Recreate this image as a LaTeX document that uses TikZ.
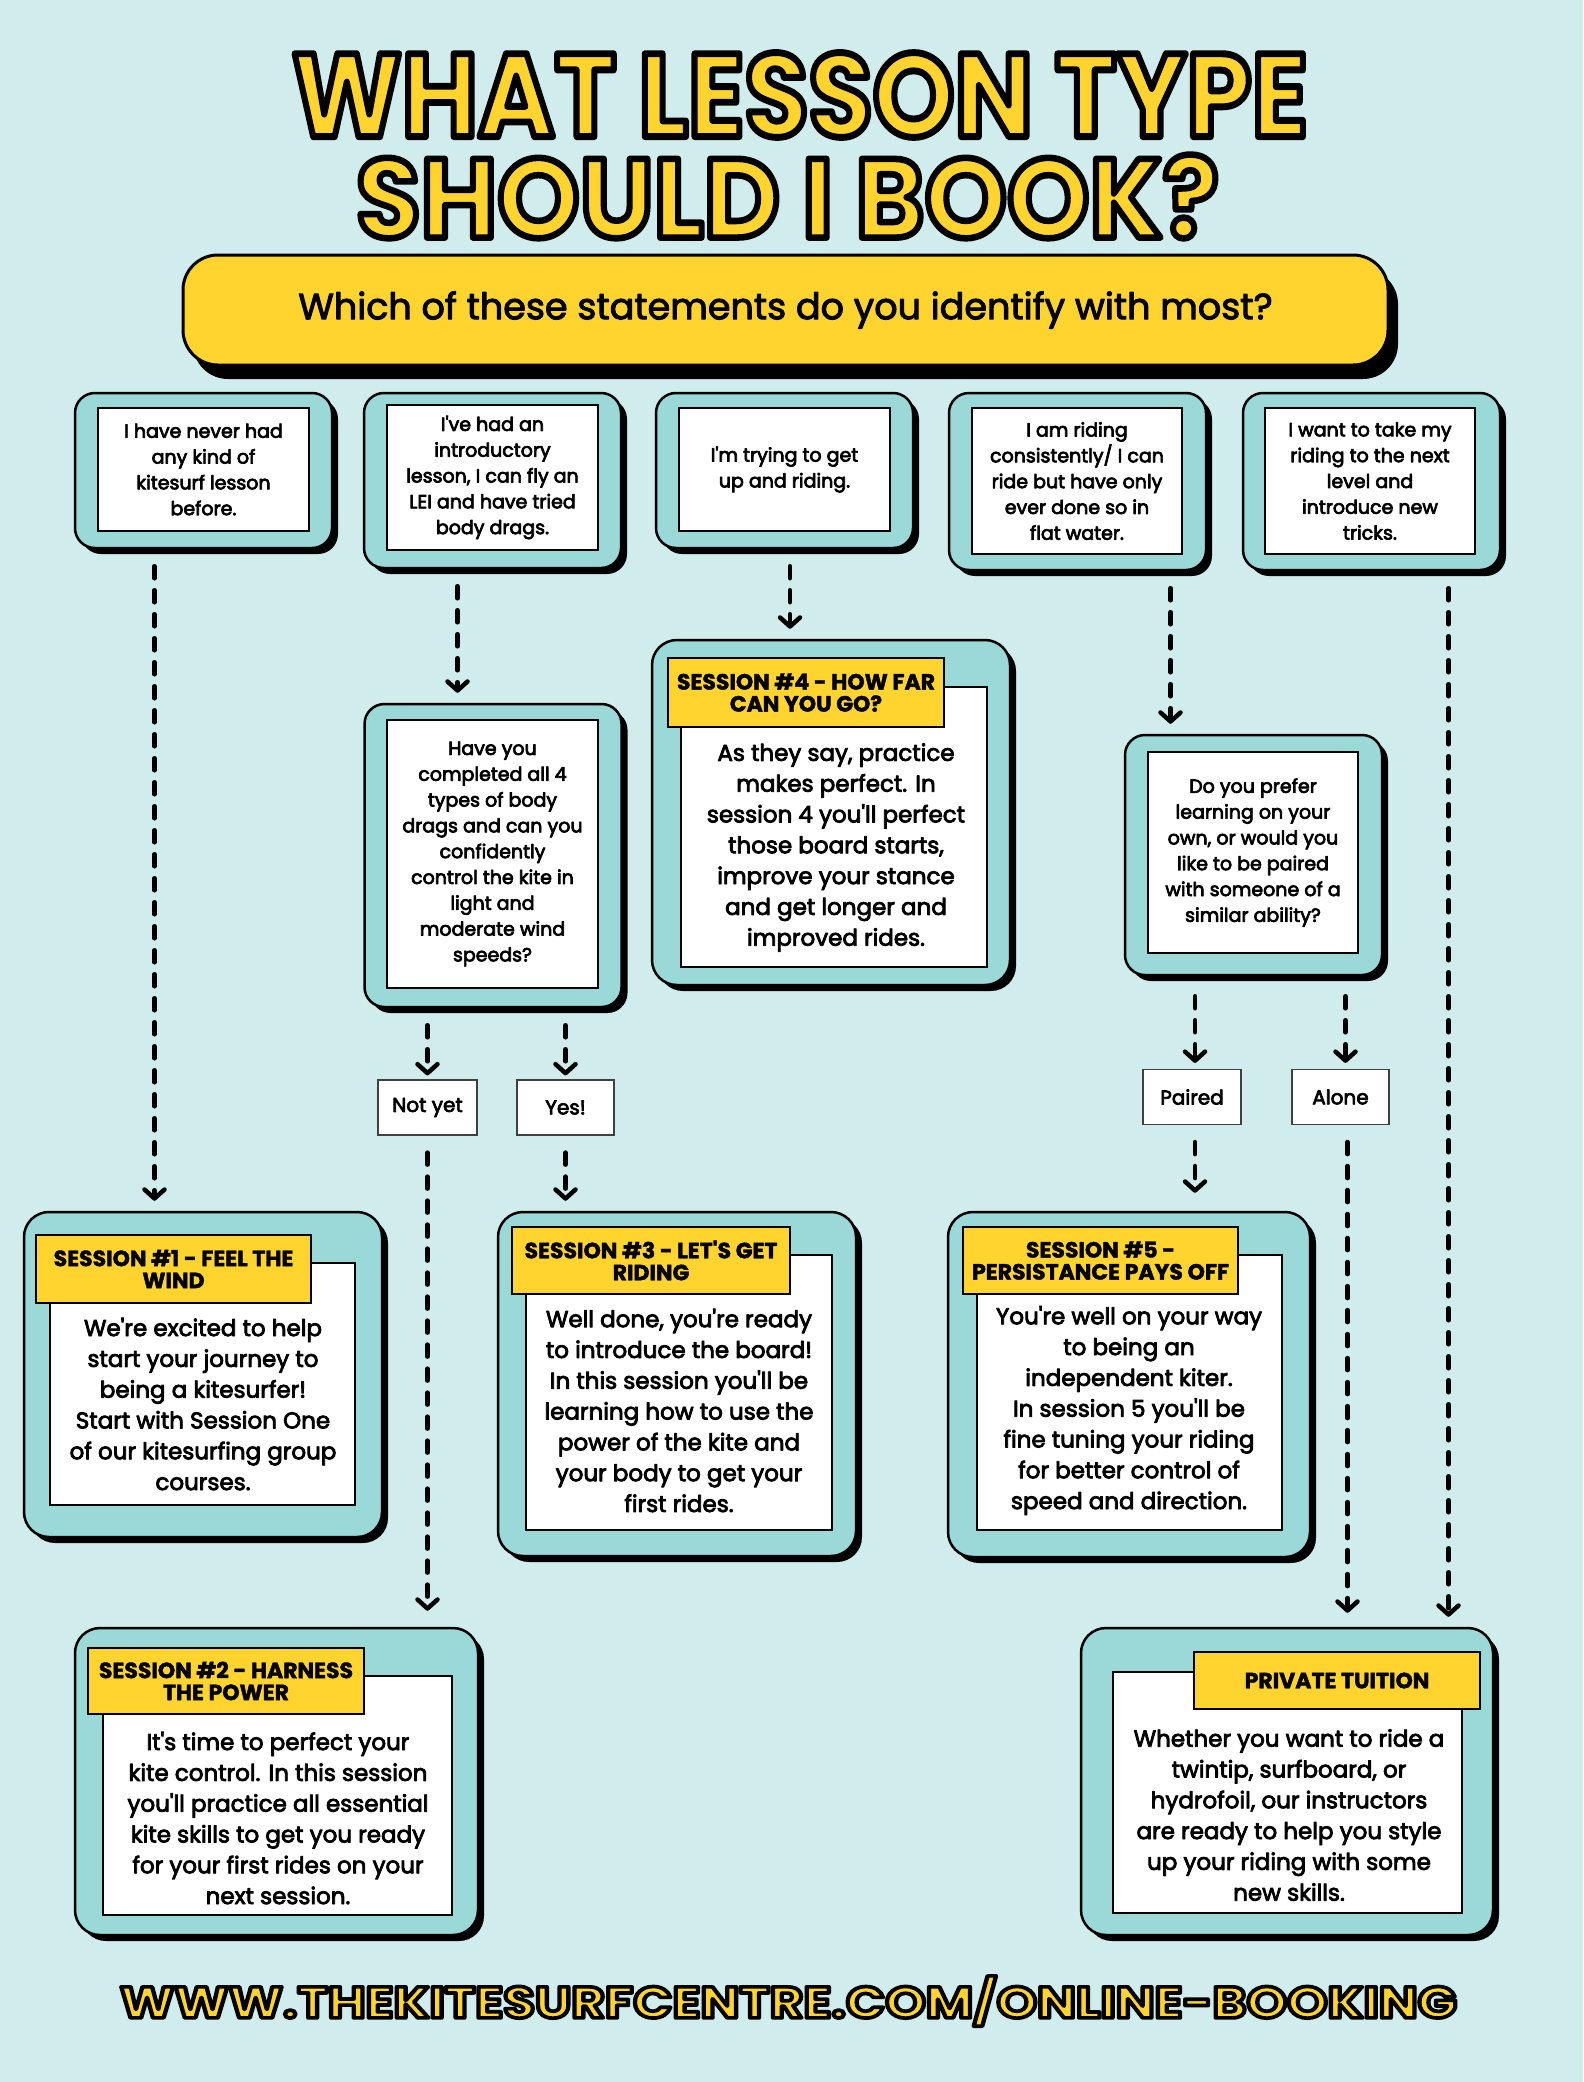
\documentclass[tikz,border=0pt]{standalone}
\usepackage{fontspec}
\setmainfont{Poppins}
\newfontfamily\plainfont{Poppins}
\usetikzlibrary{positioning,shadows,arrows.meta}
\definecolor{bgcol}{HTML}{D1ECEC}
\definecolor{tealcol}{HTML}{9BD8D8}
\definecolor{sunny}{HTML}{FFD42F}
\newcommand{\bigword}[1]{\bfseries\fontsize{120}{120}\selectfont #1}
% yellow letters with a black rim
\newcommand{\rimmed}[2]{\textcolor{sunny}{\special{pdf:literal direct 2 Tr #1 w 1 j 0 0 0 RG}#2\special{pdf:literal direct 0 Tr}}}
% a little heavier letters
\newcommand{\heavyon}[1]{\special{pdf:literal direct 2 Tr #1 w 1 j 0 0 0 RG}}
\newcommand{\heavyoff}{\special{pdf:literal direct 0 Tr}}
\tikzset {
    style banner/.style={
        fill=sunny,
        draw=black,
        line width=3pt,
        rounded corners=35pt,
        general shadow={fill=black, shadow xshift=10pt, shadow yshift=-14pt},
        inner sep=0pt,
        font=\plainfont\fontsize{36.5}{40}\selectfont,
        execute at begin node=\heavyon{1},
        execute at end node=\heavyoff,
    },
    style frame/.style={
        fill=tealcol,
        draw=black,
        line width=2.5pt,
        rounded corners=20pt,
        general shadow={fill=black, shadow xshift=6pt, shadow yshift=-6pt},
        inner sep=0pt,
    },
    style card/.style={
        fill=white,
        draw=black,
        line width=2pt,
        inner sep=0pt,
        align=center,
        font=\plainfont\fontsize{19}{25.8}\selectfont,
        execute at begin node=\heavyon{0.7},
        execute at end node=\heavyoff,
    },
    style head/.style={
        fill=sunny,
        draw=black,
        line width=2.5pt,
        inner sep=0pt,
        align=center,
        font=\plainfont\bfseries\fontsize{22}{22}\selectfont,
        execute at begin node=\heavyon{0.4},
        execute at end node=\heavyoff,
    },
    style body/.style={
        inner sep=0pt,
        align=center,
        font=\plainfont\fontsize{23}{30.8}\selectfont,
        execute at begin node=\heavyon{0.8},
        execute at end node=\heavyoff,
    },
    style pick/.style={
        fill=white,
        draw=black!75,
        line width=1.2pt,
        inner sep=0pt,
        minimum height=55pt,
        font=\plainfont\fontsize{20}{22}\selectfont,
        execute at begin node=\heavyon{0.7},
        execute at end node=\heavyoff,
    },
    flow/.style={
        line width=4.5pt,
        line cap=round,
        dash pattern=on 12pt off 12pt,
        shorten <=17pt, shorten >=10pt,
        -{Straight Barb[length=9pt,width=20pt,line cap=round,line join=round]},
    },
}

\begin{document}
\begin{tikzpicture}[x=1pt, y=-1pt]
\useasboundingbox (0,0) rectangle (1583,2082);
\fill[bgcol] (0,0) rectangle (1583,2082);

% title and web address
\node[inner sep=0pt] (title) at (800,95) {\resizebox{1016pt}{84pt}{\bigword{\rimmed{7}{WHAT LESSON TYPE}}}};
\node[inner sep=0pt] (subtitle) at (787.5,196.5) {\resizebox{863pt}{83pt}{\bigword{\rimmed{7}{SHOULD I BOOK?}}}};
\node[inner sep=0pt] (url) at (788.5,2001) {\resizebox{1337pt}{42pt}{\bigword{\rimmed{10}{WWW.THEKITESURFCENTRE.COM/ONLINE-BOOKING}}}};

% banner
\node[style banner, minimum width=1205pt, minimum height=110pt] (ask) at (785.5,310) {Which of these statements do you identify with most?};

% first row of statements
\node[style frame, minimum width=257pt, minimum height=155pt] (qoneframe) at (203.5,470.5) {};
\node[style card, minimum width=211pt, minimum height=123pt] (qone) at (203.5,469.5) {I have never had\\any kind of\\kitesurf lesson\\before.};
\node[style frame, minimum width=257pt, minimum height=175pt] (qtwoframe) at (492.5,480.5) {};
\node[style card, minimum width=211pt, minimum height=145pt] (qtwo) at (492.5,477.5) {I've had an\\introductory\\lesson, I can fly an\\LEI and have tried\\body drags.};
\node[style frame, minimum width=257pt, minimum height=155pt] (qthreeframe) at (784.5,470.5) {};
\node[style card, minimum width=211pt, minimum height=123pt] (qthree) at (784.5,469.5) {I'm trying to get\\up and riding.};
\node[style frame, minimum width=257pt, minimum height=177pt] (qfourframe) at (1077.5,481.5) {};
\node[style card, minimum width=210pt, minimum height=146pt] (qfour) at (1077,481) {I am riding\\consistently/ I can\\ride but have only\\ever done so in\\flat water.};
\node[style frame, minimum width=257pt, minimum height=177pt] (qfiveframe) at (1371.5,481.5) {};
\node[style card, minimum width=210pt, minimum height=146pt] (qfive) at (1370,481) {I want to take my\\riding to the next\\level and\\introduce new\\tricks.};

% follow-up questions
\node[style frame, minimum width=257pt, minimum height=303pt] (qsixframe) at (493,855.5) {};
\node[style card, minimum width=211pt, minimum height=268pt] (qsix) at (492.5,854) {Have you\\completed all 4\\types of body\\drags and can you\\confidently\\control the kite in\\light and\\moderate wind\\speeds?};
\node[style frame, minimum width=257pt, minimum height=240pt] (qsevenframe) at (1253.5,855) {};
\node[style card, minimum width=210pt, minimum height=201pt] (qseven) at (1253,852.5) {Do you prefer\\learning on your\\own, or would you\\like to be paired\\with someone of a\\similar ability?};

% answers
\node[style pick, minimum width=99pt] (notyet) at (427.5,1107.5) {Not yet};
\node[style pick, minimum width=97pt] (yes) at (565.5,1107.5) {Yes!};
\node[style pick, minimum width=98pt] (paired) at (1192,1097) {Paired};
\node[style pick, minimum width=97pt] (alone) at (1340.5,1097) {Alone};

% session 4
\node[style frame, minimum width=358pt, minimum height=345pt, rounded corners=25pt] (sfourframe) at (831,812.5) {};
\node[style card, minimum width=306pt, minimum height=280pt] (sfour) at (834,827) {};
\node[style head, minimum width=276pt, minimum height=69pt] (sfourhead) at (806,692.5) {SESSION \#4 - HOW FAR\\CAN YOU GO?};
\node[style body] (sfourbody) at (836,847.5) {As they say, practice\\makes perfect. In\\session 4 you'll perfect\\those board starts,\\improve your stance\\and get longer and\\improved rides.};

% session 1
\node[style frame, minimum width=358pt, minimum height=325pt, rounded corners=25pt] (soneframe) at (203,1374.5) {};
\node[style card, minimum width=305pt, minimum height=242pt] (sone) at (202.5,1384) {};
\node[style head, minimum width=275pt, minimum height=68pt] (sonehead) at (173.5,1269) {SESSION \#1 - FEEL THE\\WIND};
\node[style body] (sonebody) at (203,1404) {We're excited to help\\start your journey to\\being a kitesurfer!\\Start with Session One\\of our kitesurfing group\\courses.};

% session 3
\node[style frame, minimum width=358pt, minimum height=344pt, rounded corners=25pt] (sthreeframe) at (677,1384) {};
\node[style card, minimum width=306pt, minimum height=275pt] (sthree) at (679,1392.5) {};
\node[style head, minimum width=278pt, minimum height=67pt] (sthreehead) at (651,1260.5) {SESSION \#3 - LET'S GET\\RIDING};
\node[style body] (sthreebody) at (679,1410.5) {Well done, you're ready\\to introduce the board!\\In this session you'll be\\learning how to use the\\power of the kite and\\your body to get your\\first rides.};

% session 5
\node[style frame, minimum width=362pt, minimum height=345pt, rounded corners=25pt] (sfiveframe) at (1129,1384.5) {};
\node[style card, minimum width=305pt, minimum height=275pt] (sfive) at (1129.5,1392.5) {};
\node[style head, minimum width=275pt, minimum height=67pt] (sfivehead) at (1100.5,1260.5) {SESSION \#5 -\\PERSISTANCE PAYS OFF};
\node[style body] (sfivebody) at (1129,1410.5) {You're well on your way\\to being an\\independent kiter.\\In session 5 you'll be\\fine tuning your riding\\for better control of\\speed and direction.};

% session 2
\node[style frame, minimum width=403pt, minimum height=307pt, rounded corners=25pt] (stwoframe) at (276.5,1781.5) {};
\node[style card, minimum width=349pt, minimum height=239pt] (stwo) at (277.5,1795.5) {};
\node[style head, minimum width=276pt, minimum height=66pt] (stwohead) at (226,1681) {SESSION \#2 - HARNESS\\THE POWER};
\node[style body] (stwobody) at (278,1818) {It's time to perfect your\\kite control. In this session\\you'll practice all essential\\kite skills to get you ready\\for your first rides on your\\next session.};

% private tuition
\node[style frame, minimum width=412pt, minimum height=307pt, rounded corners=25pt] (privframe) at (1287,1781.5) {};
\node[style card, minimum width=349pt, minimum height=241pt] (priv) at (1287.5,1792.5) {};
\node[style head, minimum width=286pt, minimum height=57pt] (privhead) at (1337,1680.5) {PRIVATE TUITION};
\node[style body] (privbody) at (1289,1815) {Whether you want to ride a\\twintip, surfboard, or\\hydrofoil, our instructors\\are ready to help you style\\up your riding with some\\new skills.};

% connectors
\draw[flow] ([xshift=-49pt]qoneframe.south) -- ([xshift=-49pt]qoneframe.south |- soneframe.north);
\draw[flow] ([xshift=-35pt]qtwoframe.south) -- ([xshift=-35pt]qtwoframe.south |- qsixframe.north);
\draw[flow] ([xshift=5.5pt]qthreeframe.south) -- ([xshift=5.5pt]qthreeframe.south |- sfourframe.north);
\draw[flow] ([xshift=93pt]qfourframe.south) -- ([xshift=93pt]qfourframe.south |- qsevenframe.north);
\draw[flow] ([xshift=77pt]qfiveframe.south) -- ([xshift=77pt]qfiveframe.south |- privframe.north);
\draw[flow, shorten >=4pt] (qsixframe.south -| notyet) -- (notyet);
\draw[flow, shorten >=4pt] (qsixframe.south -| yes) -- (yes);
\draw[flow, shorten >=16pt] (notyet) -- (notyet |- stwoframe.north);
\draw[flow] (yes) -- (yes |- sthreeframe.north);
\draw[flow, shorten <=20pt, shorten >=6pt] ([xshift=3pt]qsevenframe.south -| paired) -- ([xshift=3pt]paired.north);
\draw[flow, shorten <=20pt, shorten >=6pt] ([xshift=5pt]qsevenframe.south -| alone) -- ([xshift=5pt]alone.north);
\draw[flow, shorten >=18pt] ([xshift=3pt]paired.south) -- ([xshift=3pt]paired.south |- sfiveframe.north);
\draw[flow, shorten >=14pt] ([xshift=7pt]alone.south) -- ([xshift=7pt]alone.south |- privframe.north);
\end{tikzpicture}
\end{document}
